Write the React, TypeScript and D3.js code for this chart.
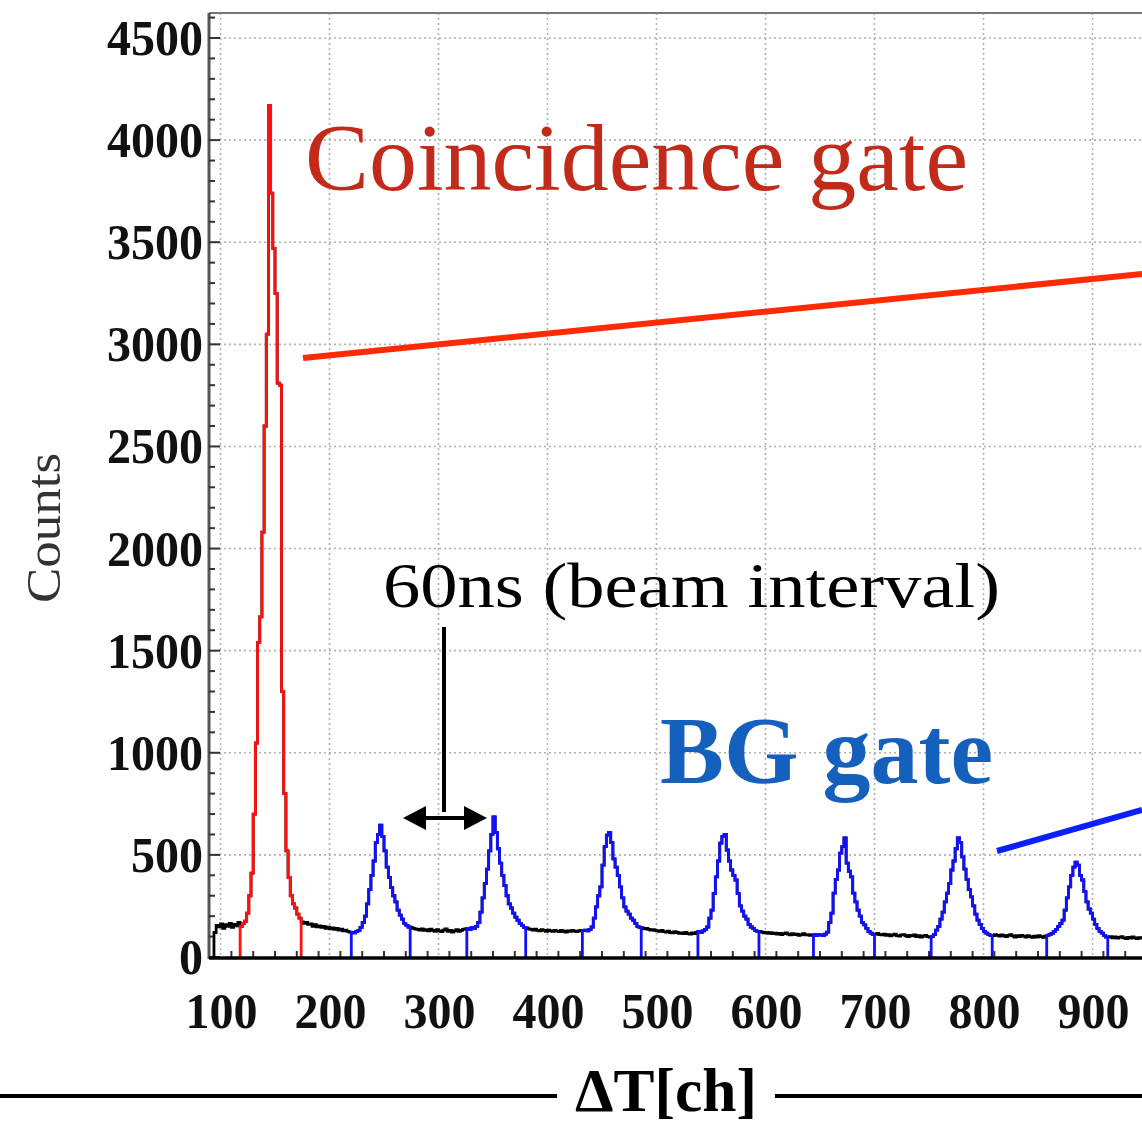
import React from "react";
import * as d3 from "d3";

// ---- data: histogram in 2-channel bins, starting at channel 94 ----
const START_CH = 94;
const BIN_CH = 2;

const baseline0 = [120, 155, 148, 162, 140, 158, 150, 165, 145, 160, 152, 170];
const coincidenceGate = [150, 165, 175, 215, 300, 411, 700, 1048, 1540, 1665, 2080, 2600, 3050, 4170, 3740, 3470, 3250, 2810, 2800, 1300, 800, 520, 390, 300, 260, 240, 210, 190];
const baseline1 = [172, 165, 170, 160, 162, 150, 158, 148, 152, 145, 150, 140, 146, 138, 142, 135, 140, 132, 136, 128, 132, 125, 122];
const bgGate1 = [120, 118, 125, 130, 145, 170, 200, 260, 330, 400, 470, 560, 600, 646, 590, 520, 440, 390, 340, 300, 270, 230, 205, 185, 165, 155, 147];
const baseline2 = [145, 140, 138, 135, 132, 138, 130, 134, 128, 136, 130, 126, 134, 128, 124, 132, 138, 126, 130, 122, 128, 134, 126, 130, 135, 138];
const bgGate2 = [140, 135, 145, 140, 150, 170, 220, 290, 360, 430, 520, 600, 686, 610, 530, 460, 400, 350, 300, 260, 240, 215, 195, 180, 165, 155, 145];
const baseline3 = [142, 138, 135, 132, 136, 130, 128, 134, 130, 126, 132, 128, 125, 130, 127, 124, 130, 126, 122, 128, 125, 130, 127, 124, 128, 130];
const bgGate3 = [130, 132, 128, 135, 147, 190, 245, 300, 343, 450, 540, 597, 610, 560, 480, 440, 400, 343, 290, 245, 225, 210, 190, 180, 165, 150, 145];
const baseline4 = [142, 138, 140, 135, 132, 134, 130, 128, 126, 130, 124, 122, 126, 120, 118, 124, 120, 116, 118, 115, 120, 114, 112, 118, 115, 120];
const bgGate4 = [125, 120, 128, 135, 147, 190, 230, 310, 392, 470, 558, 590, 600, 524, 470, 426, 400, 377, 310, 250, 225, 200, 185, 160, 147, 140, 130, 125];
const baseline5 = [125, 122, 118, 120, 116, 119, 114, 117, 112, 116, 110, 114, 118, 112, 108, 114, 110, 112, 106, 110, 114, 108, 110, 106, 108];
const bgGate5 = [110, 105, 110, 108, 105, 112, 122, 170, 215, 313, 380, 426, 509, 540, 583, 460, 420, 392, 313, 270, 230, 200, 170, 157, 140, 125, 117, 110];
const baseline6 = [112, 115, 110, 108, 112, 106, 110, 104, 108, 112, 105, 102, 108, 110, 104, 100, 106, 103, 108, 100, 104, 98, 102, 106, 100, 98];
const bgGate6 = [100, 110, 132, 150, 185, 220, 270, 313, 360, 426, 470, 530, 583, 560, 490, 430, 380, 330, 294, 250, 210, 181, 160, 140, 125, 117, 110, 105];
const baseline7 = [105, 110, 106, 102, 108, 104, 100, 106, 110, 103, 98, 104, 100, 106, 102, 98, 104, 100, 96, 102, 98, 104, 100, 96, 102];
const bgGate7 = [105, 110, 115, 125, 135, 150, 165, 181, 230, 290, 343, 400, 440, 465, 450, 400, 377, 320, 270, 235, 215, 185, 160, 140, 125, 117, 105, 98];
const baseline8 = [98, 100, 94, 98, 92, 96, 100, 94, 90, 96, 92, 98, 94, 90, 95, 92, 96];

const X_TICKS = [100, 200, 300, 400, 500, 600, 700, 800, 900];
const Y_TICKS = [0, 500, 1000, 1500, 2000, 2500, 3000, 3500, 4000, 4500];

const TITLE_X = "ΔT[ch]";
const TITLE_Y = "Counts";
const LABEL_COINC = "Coincidence gate";
const LABEL_BG = "BG gate";
const LABEL_INTERVAL = "60ns (beam interval)";

const W = 1142;
const H = 1125;
const SERIF = "'Liberation Serif', 'Times New Roman', serif";

type Piece = { kind: "base" | "red" | "blue"; counts: number[]; start: number };

function buildPieces(): Piece[] {
  const order: { kind: Piece["kind"]; counts: number[] }[] = [
    { kind: "base", counts: baseline0 },
    { kind: "red", counts: coincidenceGate },
    { kind: "base", counts: baseline1 },
    { kind: "blue", counts: bgGate1 },
    { kind: "base", counts: baseline2 },
    { kind: "blue", counts: bgGate2 },
    { kind: "base", counts: baseline3 },
    { kind: "blue", counts: bgGate3 },
    { kind: "base", counts: baseline4 },
    { kind: "blue", counts: bgGate4 },
    { kind: "base", counts: baseline5 },
    { kind: "blue", counts: bgGate5 },
    { kind: "base", counts: baseline6 },
    { kind: "blue", counts: bgGate6 },
    { kind: "base", counts: baseline7 },
    { kind: "blue", counts: bgGate7 },
    { kind: "base", counts: baseline8 },
  ];
  let ch = START_CH;
  return order.map((o) => {
    const p = { ...o, start: ch };
    ch += o.counts.length * BIN_CH;
    return p;
  });
}

export default function App() {
  const x = d3.scaleLinear().domain([100, 900]).range([220.5, 1092.5]);
  const y = d3.scaleLinear().domain([0, 4500]).range([957, 38]);

  const plotLeft = 209;
  const plotTop = 13;
  const plotBottom = 957;
  const plotRight = W + 20;

  const pieces = buildPieces();
  const allCounts = pieces.flatMap((p) => p.counts);

  const stepPath = (start: number, counts: number[]) => {
    let d = `M${x(start)},${y(0)}`;
    counts.forEach((c, i) => {
      d += `V${y(c)}H${x(start + (i + 1) * BIN_CH)}`;
    });
    d += `V${y(0)}`;
    return d;
  };

  const xMinor = d3.range(90, 960, 20).filter((v) => x(v) > plotLeft + 1);
  const yMinor = d3.range(0, 4601, 100);

  return (
    <svg
      width={W}
      height={H}
      style={{ position: "absolute", left: 0, top: 0, background: "#fff" }}
      fontFamily={SERIF}
    >
      <defs>
        <clipPath id="plotClip">
          <rect x={plotLeft} y={plotTop} width={plotRight - plotLeft} height={plotBottom - plotTop + 2} />
        </clipPath>
      </defs>

      {/* grid */}
      <g stroke="#b0b0b0" strokeWidth={1.6} strokeDasharray="2 3">
        {X_TICKS.map((v) => (
          <line key={"gx" + v} x1={x(v)} x2={x(v)} y1={plotTop} y2={plotBottom} />
        ))}
        {Y_TICKS.filter((v) => v > 0).map((v) => (
          <line key={"gy" + v} x1={plotLeft} x2={plotRight} y1={y(v)} y2={y(v)} />
        ))}
      </g>

      {/* frame */}
      <line x1={plotLeft} x2={plotRight} y1={plotTop} y2={plotTop} stroke="#777" strokeWidth={2} />
      <line x1={plotLeft} x2={plotLeft} y1={plotTop} y2={plotBottom + 2} stroke="#555" strokeWidth={3} />

      {/* ticks */}
      <g stroke="#333" strokeWidth={2}>
        {yMinor.map((v) => (
          <line key={"ym" + v} x1={plotLeft} x2={plotLeft + (v % 500 === 0 ? 11 : 6)} y1={y(v)} y2={y(v)} />
        ))}
        {xMinor.map((v) => (
          <line key={"xm" + v} x1={x(v)} x2={x(v)} y1={plotBottom} y2={plotBottom - (v % 100 === 0 ? 11 : 6)} />
        ))}
      </g>

      {/* histogram */}
      <g clipPath="url(#plotClip)" fill="none" strokeWidth={2.8} strokeLinejoin="miter">
        <path d={stepPath(START_CH, allCounts)} stroke="#000" />
        {pieces
          .filter((p) => p.kind !== "base")
          .map((p, i) => (
            <path key={"g" + i} d={stepPath(p.start, p.counts)} stroke={p.kind === "red" ? "#ff1010" : "#1010ff"} />
          ))}
      </g>

      {/* bottom axis */}
      <line x1={plotLeft} x2={plotRight} y1={plotBottom + 1} y2={plotBottom + 1} stroke="#000" strokeWidth={3.5} />

      {/* tick labels */}
      <g fontWeight="bold" fontSize={50} fill="#111">
        {Y_TICKS.map((v) => {
          const s = String(v);
          return (
            <text
              key={"yl" + v}
              x={203}
              y={y(v) + 17}
              textAnchor="end"
              textLength={s.length * 24}
              lengthAdjust="spacingAndGlyphs"
            >
              {s}
            </text>
          );
        })}
        {X_TICKS.map((v) => {
          const s = String(v);
          return (
            <text
              key={"xl" + v}
              x={x(v) + 1}
              y={1028}
              textAnchor="middle"
              textLength={s.length * 24}
              lengthAdjust="spacingAndGlyphs"
            >
              {s}
            </text>
          );
        })}
      </g>

      {/* y title */}
      <text
        transform={`translate(60,528) rotate(-90)`}
        textAnchor="middle"
        fontSize={48}
        fill="#333"
        textLength={150}
        lengthAdjust="spacingAndGlyphs"
      >
        {TITLE_Y}
      </text>

      {/* x title with side lines */}
      <line x1={0} x2={557} y1={1096} y2={1096} stroke="#000" strokeWidth={4} />
      <line x1={775} x2={W} y1={1096} y2={1096} stroke="#000" strokeWidth={4} />
      <text
        x={575}
        y={1111}
        fontSize={62}
        fontWeight="bold"
        fill="#000"
        textLength={182}
        lengthAdjust="spacingAndGlyphs"
      >
        {TITLE_X}
      </text>

      {/* annotations */}
      <text x={305} y={190} fontSize={96} fill="#c22a1a" textLength={663} lengthAdjust="spacingAndGlyphs">
        {LABEL_COINC}
      </text>
      <line x1={303} y1={358} x2={W} y2={274} stroke="#ff2a00" strokeWidth={6} />

      <text x={383} y={607} fontSize={64} fill="#000" textLength={617} lengthAdjust="spacingAndGlyphs">
        {LABEL_INTERVAL}
      </text>
      <line x1={444} y1={627} x2={444} y2={812} stroke="#000" strokeWidth={4} />
      <line x1={420} y1={818} x2={470} y2={818} stroke="#000" strokeWidth={4} />
      <path d="M403,818 L426,806 L426,830 Z" fill="#000" />
      <path d="M487,818 L464,806 L464,830 Z" fill="#000" />

      <text x={660} y={783} fontSize={95} fontWeight="bold" fill="#1560bd" textLength={333} lengthAdjust="spacingAndGlyphs">
        {LABEL_BG}
      </text>
      <line x1={997} y1={851} x2={W} y2={810} stroke="#0a1eff" strokeWidth={6} />
    </svg>
  );
}
